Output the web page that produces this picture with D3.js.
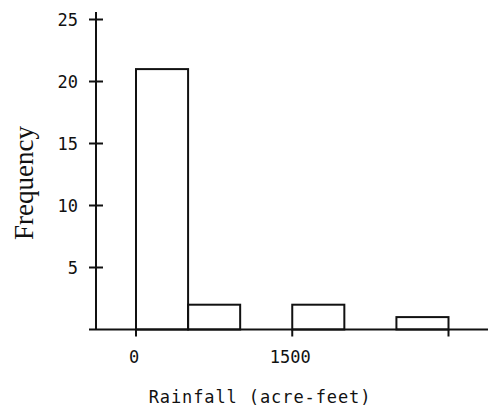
<!DOCTYPE html>
<html>
<head>
<meta charset="utf-8">
<script src="https://cdn.jsdelivr.net/npm/d3@7"></script>
<style>
  html, body { margin: 0; padding: 0; background: #fff; }
  svg { display: block; }
  .tick-label, .x-title { font-family: "DejaVu Sans Mono", monospace; font-size: 17px; fill: #111; }
  .y-title { font-family: "Liberation Serif", "DejaVu Serif", serif; font-size: 27px; fill: #111; }
</style>
</head>
<body>
<script>
// Histogram bins of rainfall (acre-feet) and their counts
const binEdges = [0, 500, 1000, 1500, 2000, 2500, 3000];
const binCounts = [21, 2, 0, 2, 0, 1];
const xTickValues = [0, 1500, 3000];
const xTickLabels = ["0", "1500", ""];
const yTickValues = [5, 10, 15, 20, 25];
const xTitle = "Rainfall (acre-feet)";
const yTitle = "Frequency";

const W = 494, H = 409;
const svg = d3.select("body").append("svg").attr("width", W).attr("height", H);

const x = d3.scaleLinear().domain([0, 3000]).range([136, 448.5]);
const y = d3.scaleLinear().domain([0, 25]).range([329.5, 19.5]);

const ink = "#111";
const sw = 2;

// bars (empty bins are not drawn)
const bins = binCounts.map((c, i) => ({ x0: binEdges[i], x1: binEdges[i + 1], count: c }))
  .filter(d => d.count > 0);
svg.append("g").selectAll("rect").data(bins).join("rect")
  .attr("x", d => x(d.x0))
  .attr("y", d => y(d.count))
  .attr("width", d => x(d.x1) - x(d.x0))
  .attr("height", d => y(0) - y(d.count))
  .attr("fill", "none")
  .attr("stroke", ink)
  .attr("stroke-width", sw);

// y axis: line with cross ticks
const yAxisX = 96;
svg.append("line")
  .attr("x1", yAxisX).attr("x2", yAxisX)
  .attr("y1", 12).attr("y2", y(0))
  .attr("stroke", ink).attr("stroke-width", sw);
const yt = svg.append("g").selectAll("g").data(yTickValues).join("g");
yt.append("line")
  .attr("x1", yAxisX - 7).attr("x2", yAxisX + 7)
  .attr("y1", d => y(d)).attr("y2", d => y(d))
  .attr("stroke", ink).attr("stroke-width", sw);
yt.append("text")
  .attr("class", "tick-label")
  .attr("x", 78)
  .attr("y", d => y(d))
  .attr("dy", "0.36em")
  .attr("text-anchor", "end")
  .text(d => d);

// x axis: line with downward ticks
svg.append("line")
  .attr("x1", 89).attr("x2", 488)
  .attr("y1", y(0)).attr("y2", y(0))
  .attr("stroke", ink).attr("stroke-width", sw);
const xt = svg.append("g").selectAll("g").data(xTickValues).join("g");
xt.append("line")
  .attr("x1", d => x(d)).attr("x2", d => x(d))
  .attr("y1", y(0)).attr("y2", y(0) + 7)
  .attr("stroke", ink).attr("stroke-width", sw);
xt.append("text")
  .attr("class", "tick-label")
  .attr("x", d => x(d) - 2)
  .attr("y", 363)
  .attr("text-anchor", "middle")
  .text((d, i) => xTickLabels[i]);

// axis titles
svg.append("text")
  .attr("class", "x-title")
  .attr("x", 260).attr("y", 403)
  .attr("text-anchor", "middle")
  .attr("letter-spacing", "0.9px")
  .text(xTitle);

svg.append("text")
  .attr("class", "y-title")
  .attr("transform", "translate(33,183) rotate(-90)")
  .attr("text-anchor", "middle")
  .text(yTitle);
</script>
</body>
</html>
